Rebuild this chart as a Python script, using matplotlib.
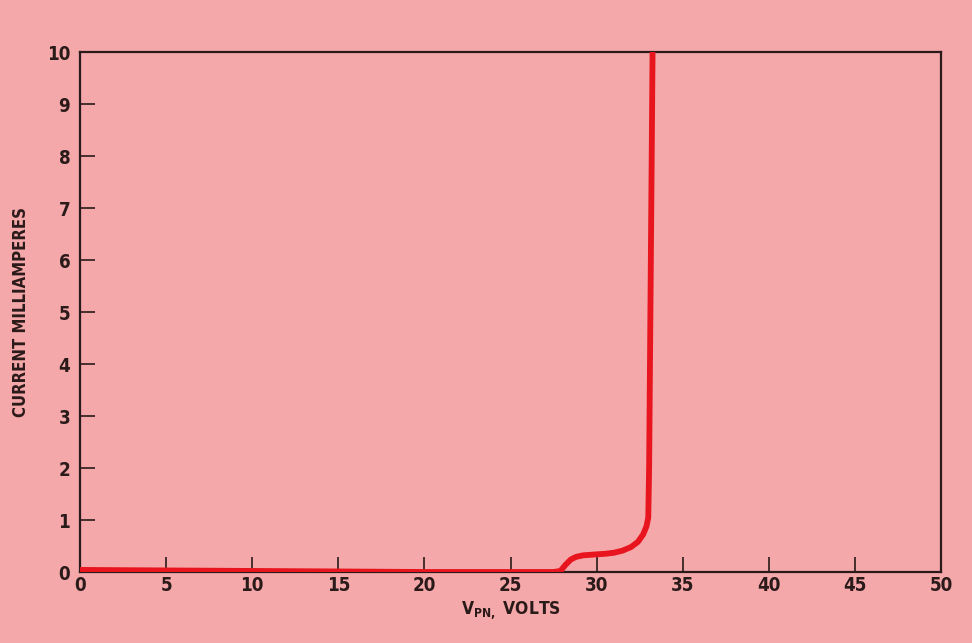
import numpy as np
import matplotlib
matplotlib.use('Agg')
import matplotlib.pyplot as plt

# datos
volts = [0, 5, 10, 15, 20, 25, 27.5, 27.9, 28.2, 28.5, 28.8, 29.2, 29.6, 30.0, 30.5,
         31.0, 31.5, 32.0, 32.4, 32.7, 32.9, 33.0, 33.05, 33.1, 33.2, 33.25]
current = [0.04, 0.03, 0.02, 0.01, 0.0, 0.0, 0.0, 0.02, 0.14, 0.24, 0.29, 0.32, 0.33, 0.34, 0.35,
           0.37, 0.41, 0.48, 0.58, 0.72, 0.88, 1.05, 2.0, 4.0, 8.0, 10.0]
x_ticks = [0, 5, 10, 15, 20, 25, 30, 35, 40, 45, 50]
y_ticks = [0, 1, 2, 3, 4, 5, 6, 7, 8, 9, 10]

bg = '#f5a8a9'
ink = '#2b1a1a'

plt.rcParams['font.family'] = ['DejaVu Sans']
plt.rcParams['font.stretch'] = 'condensed'
plt.rcParams['font.weight'] = 'bold'
plt.rcParams['mathtext.default'] = 'regular'

fig = plt.figure(figsize=(9.72, 6.43), dpi=100, facecolor=bg)
ax = fig.add_axes([80 / 972, 71 / 643, 861 / 972, 520 / 643])
ax.set_facecolor(bg)

# curva
ax.plot(volts, current, color='#e8141e', linewidth=4.2, solid_capstyle='butt',
        solid_joinstyle='round', zorder=3)

ax.set_xlim(0, 50)
ax.set_ylim(0, 10)
ax.set_xticks(x_ticks)
ax.set_yticks(y_ticks)
ax.tick_params(direction='in', length=11, width=1.2, color=ink, labelcolor=ink,
               labelsize=13.5, pad=3)
ax.tick_params(axis='y', pad=7)
for s in ax.spines.values():
    s.set_color(ink)
    s.set_linewidth(1.6)

ax.set_xlabel(r'V$_{PN,}$ VOLTS', fontsize=12.5, color=ink, fontweight='bold', labelpad=3)
ax.set_ylabel('CURRENT MILLIAMPERES', fontsize=12, color=ink, fontweight='bold', labelpad=12)

fig.savefig('out.png', dpi=100, facecolor=bg)
